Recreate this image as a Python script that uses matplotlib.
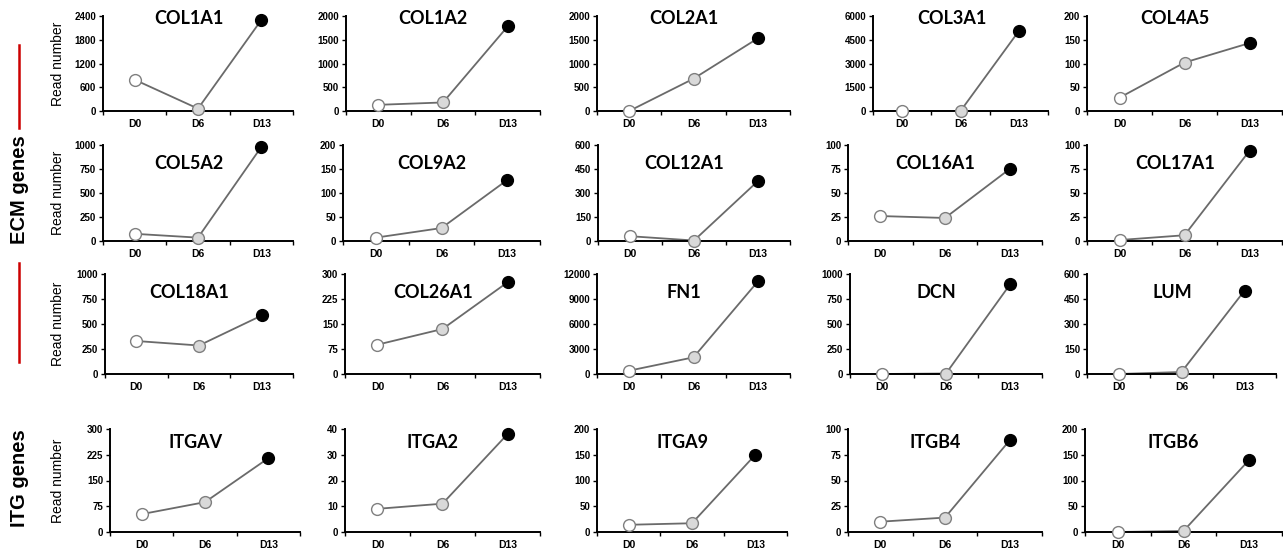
import numpy as np
import matplotlib
matplotlib.use('Agg')
import matplotlib.pyplot as plt

# read numbers at D0, D6, D13 for each gene
days = ['D0', 'D6', 'D13']
genes = [['COL1A1', 'COL1A2', 'COL2A1', 'COL3A1', 'COL4A5'],
         ['COL5A2', 'COL9A2', 'COL12A1', 'COL16A1', 'COL17A1'],
         ['COL18A1', 'COL26A1', 'FN1', 'DCN', 'LUM'],
         ['ITGAV', 'ITGA2', 'ITGA9', 'ITGB4', 'ITGB6']]
reads = {'COL1A1': [790, 60, 2300], 'COL1A2': [130, 180, 1780],
         'COL2A1': [0, 680, 1530], 'COL3A1': [0, 0, 5050],
         'COL4A5': [28, 102, 143], 'COL5A2': [75, 35, 980],
         'COL9A2': [7, 27, 127], 'COL12A1': [30, 3, 375],
         'COL16A1': [26, 24, 75], 'COL17A1': [1, 6, 94],
         'COL18A1': [330, 285, 585], 'COL26A1': [88, 135, 275],
         'FN1': [400, 2000, 11100], 'DCN': [0, 5, 895],
         'LUM': [0, 12, 500], 'ITGAV': [52, 87, 215],
         'ITGA2': [9, 11, 38], 'ITGA9': [14, 17, 150],
         'ITGB4': [10, 14, 89], 'ITGB6': [0, 2, 140]}
ymax = {'COL1A1': 2400, 'COL1A2': 2000, 'COL2A1': 2000, 'COL3A1': 6000,
        'COL4A5': 200, 'COL5A2': 1000, 'COL9A2': 200, 'COL12A1': 600,
        'COL16A1': 100, 'COL17A1': 100, 'COL18A1': 1000, 'COL26A1': 300,
        'FN1': 12000, 'DCN': 1000, 'LUM': 600, 'ITGAV': 300, 'ITGA2': 40,
        'ITGA9': 200, 'ITGB4': 100, 'ITGB6': 200}

# panel layout in pixels
W, H = 1283, 551
lefts = [[103, 346, 597, 873, 1087], [103, 343, 598, 848, 1087],
         [105, 345, 597, 850, 1087], [110, 345, 597, 848, 1085]]
rights = [[293, 540, 790, 1048, 1282], [293, 540, 790, 1042, 1282],
          [293, 540, 790, 1042, 1276], [300, 540, 787, 1042, 1282]]
tops = [16, 145, 274, 429]
bottoms = [111, 241, 374, 532]
title_y = [0.97, 0.81, 0.81, 0.87]

fig = plt.figure(figsize=(W / 100, H / 100), dpi=100)
fills = ['white', '#d9d9d9', 'black']

for r in range(4):
    for c in range(5):
        g = genes[r][c]
        x0, x1 = lefts[r][c], rights[r][c]
        ax = fig.add_axes([x0 / W, 1 - bottoms[r] / H, (x1 - x0) / W,
                           (bottoms[r] - tops[r]) / H])
        x = np.arange(3)
        ax.plot(x, reads[g], color='#6a6a6a', lw=1.3, zorder=2)
        for i in range(3):
            ax.plot(x[i], reads[g][i], 'o', ms=8.5, mfc=fills[i],
                    mec='#7f7f7f' if i < 2 else 'black', mew=1, zorder=3,
                    clip_on=False)
        ax.set_xlim(-0.5, 2.5)
        ax.set_ylim(0, ymax[g])
        ax.set_yticks(np.linspace(0, ymax[g], 5))
        ax.set_xticks([-0.5, 0.5, 1.5, 2.5])
        ax.set_xticklabels([])
        ax.set_xticks(x, days, minor=True)
        ax.tick_params(axis='x', which='minor', length=0, pad=6,
                       labelsize=7.5)
        ax.tick_params(axis='x', which='major', length=3, width=1)
        ax.tick_params(axis='y', length=3, width=1, labelsize=7, pad=2)
        for lab in ax.get_xticklabels(minor=True) + ax.get_yticklabels():
            lab.set_fontweight('bold')
            lab.set_family('Liberation Sans')
        ax.spines[['top', 'right']].set_visible(False)
        ax.spines[['left', 'bottom']].set_linewidth(1.4)
        ax.text(0.45, title_y[r], g, transform=ax.transAxes, ha='center',
                va='center', fontsize=13, fontweight='bold', family='Lato')
    # y label shared by the row
    yc = (tops[r] + bottoms[r]) / 2
    fig.text(58 / W, 1 - yc / H, 'Read number', rotation=90, ha='center',
             va='center', fontsize=10, family='Liberation Sans')

fig.text(20 / W, 1 - 190 / H, 'ECM genes', rotation=90, ha='center',
         va='center', fontsize=14.5, fontweight='bold', family='Liberation Sans')
fig.text(20 / W, 1 - 478 / H, 'ITG genes', rotation=90, ha='center',
         va='center', fontsize=14.5, fontweight='bold', family='Liberation Sans')
fig.add_artist(plt.Line2D([19 / W, 19 / W], [1 - 45 / H, 1 - 128 / H],
                          color='#cc0000', lw=1.8))
fig.add_artist(plt.Line2D([19 / W, 19 / W], [1 - 263 / H, 1 - 362 / H],
                          color='#cc0000', lw=1.8))

fig.savefig('out.png', dpi=100)
